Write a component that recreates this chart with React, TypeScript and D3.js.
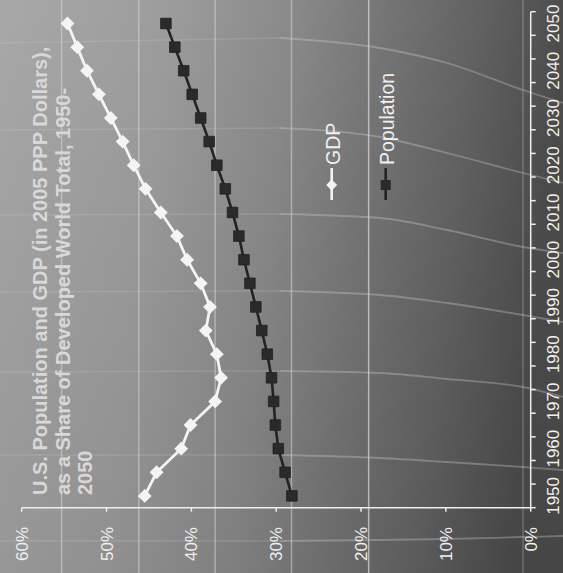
import React from "react";
import * as d3 from "d3";

// ---- data ----
const years = [1950, 1955, 1960, 1965, 1970, 1975, 1980, 1985, 1990, 1995, 2000, 2005, 2010, 2015, 2020, 2025, 2030, 2035, 2040, 2045, 2050];
const gdpShare = [45.5, 44.1, 41.2, 40.1, 37.2, 36.5, 37.0, 38.3, 37.8, 38.9, 40.5, 41.7, 43.6, 45.4, 46.8, 48.1, 49.5, 50.9, 52.3, 53.45, 54.6];
const populationShare = [28.15, 28.95, 29.75, 30.1, 30.3, 30.55, 31.05, 31.7, 32.4, 33.1, 33.8, 34.4, 35.15, 36.0, 37.0, 37.9, 38.9, 39.9, 40.9, 41.95, 43.0];
const valueTicks = [0, 10, 20, 30, 40, 50, 60];
const yearLabels = ["1950", "1960", "1970", "1980", "1990", "2000", "2010", "2020", "2030", "2040", "2050"];
const seriesNames = ["GDP", "Population"];
const titleLines = [
  "U.S. Population and GDP (in 2005 PPP Dollars),",
  "as a Share of Developed World Total, 1950-",
  "2050",
];
// background texture guides (expressed on the value scale)
const bgGuideValues = [55.3, 46.2, 37.2, 28.2, 19.1];
// faint background arcs: screen y at x = 0, 280, 380, 447, 523, 563
const bgArcs = [
  [43, 38, 48, 63, 90, 103],
  [130, 128, 137, 153, 173, 183],
  [215, 214, 218, 230, 247, 253],
  [292, 291, 295, 303, 315, 322],
  [372, 371, 373, 379, 387, 397],
  [455, 455, 458, 462, 467, 470],
  [541, 541, 540, 539, 537, 536],
];
const arcXs = [0, 280, 380, 447, 523, 563];

const W = 563;
const H = 573;
const FONT = "'Liberation Sans', Arial, Helvetica, sans-serif";

export default function App() {
  const xVal = d3.scaleLinear().domain([0, 60]).range([530.7, 21.7]);
  const yCat = d3.scaleBand<string>().domain(years.map(String)).range([507.7, 11.7]).padding(0);
  const bw = yCat.bandwidth();
  const cy = (y: number) => (yCat(String(y)) as number) + bw / 2;

  const plotLeft = xVal(60);
  const plotRight = xVal(0);
  const plotTop = yCat("2050") as number;
  const plotBottom = (yCat("1950") as number) + bw;

  const boundaries = [...years.map((y) => yCat(String(y)) as number), plotBottom];

  const line = d3
    .line<number>()
    .x((d) => xVal(d))
    .y((_, i) => cy(years[i]));

  const arcLine = d3
    .line<[number, number]>()
    .x((d) => d[0])
    .y((d) => d[1])
    .curve(d3.curveMonotoneX);

  const sq = d3.symbol().type(d3.symbolSquare);
  const diamondPath = sq.size(96)() as string;
  const squarePath = sq.size(112)() as string;
  const legDiamond = sq.size(60)() as string;
  const legSquare = sq.size(100)() as string;

  const lightText = "#f0f0f0";

  return (
    <svg
      width={W}
      height={H}
      style={{ position: "absolute", left: 0, top: 0, display: "block" }}
      fontFamily={FONT}
    >
      <defs>
        <linearGradient id="bg" x1="0" y1="0" x2={W} y2="60" gradientUnits="userSpaceOnUse">
          <stop offset="0" stopColor="#a8a8a8" />
          <stop offset="0.3" stopColor="#9c9c9c" />
          <stop offset="0.52" stopColor="#898989" />
          <stop offset="0.68" stopColor="#757575" />
          <stop offset="0.84" stopColor="#626262" />
          <stop offset="1" stopColor="#4c4c4c" />
        </linearGradient>
        <linearGradient id="shade" x1="0" y1="0" x2="0" y2="1">
          <stop offset="0" stopColor="#000" stopOpacity="0" />
          <stop offset="1" stopColor="#000" stopOpacity="0.08" />
        </linearGradient>
      </defs>
      <rect x={0} y={0} width={W} height={H} fill="url(#bg)" />
      <rect x={0} y={0} width={W} height={H} fill="url(#shade)" />

      {/* background texture guides */}
      {bgGuideValues.map((v, i) => (
        <line
          key={"g" + i}
          x1={xVal(v)}
          x2={xVal(v)}
          y1={0}
          y2={H}
          stroke="#dcdcdc"
          strokeOpacity={i === bgGuideValues.length - 1 ? 0.7 : 0.5}
          strokeWidth={1.5}
        />
      ))}
      <line x1={523} x2={523} y1={0} y2={H} stroke="#bbbbbb" strokeOpacity={0.25} strokeWidth={2} />
      {bgArcs.map((a, i) => {
        const pts = a.map((y, j) => [arcXs[j], y] as [number, number]);
        return (
          <g key={"a" + i}>
            <path d={arcLine(pts.slice(0, 2)) as string} fill="none" stroke="#d8d8d8" strokeOpacity={0.18} strokeWidth={1.5} />
            <path d={arcLine(pts.slice(1)) as string} fill="none" stroke="#d8d8d8" strokeOpacity={0.32} strokeWidth={1.8} />
          </g>
        );
      })}

      {/* title */}
      {titleLines.map((t, i) => {
        const bx = 47 + i * 22.5;
        const by = 495;
        return (
          <text
            key={"t" + i}
            x={bx}
            y={by}
            transform={`rotate(-90, ${bx}, ${by})`}
            fontSize={20}
            fontWeight="bold"
            fill="#d8d8d8"
          >
            {t}
          </text>
        );
      })}

      {/* axes */}
      <line x1={plotLeft} x2={plotRight} y1={plotBottom} y2={plotBottom} stroke="#eeeeee" strokeWidth={1.5} />
      <line x1={plotRight} x2={plotRight} y1={plotTop} y2={plotBottom} stroke="#eeeeee" strokeWidth={1.5} />
      {valueTicks.map((v) => (
        <line key={"vt" + v} x1={xVal(v)} x2={xVal(v)} y1={plotBottom} y2={plotBottom + 4} stroke="#eeeeee" strokeWidth={1.5} />
      ))}
      {boundaries.map((b, i) => (
        <line key={"ct" + i} x1={plotRight} x2={plotRight + 5} y1={b} y2={b} stroke="#eeeeee" strokeWidth={1.5} />
      ))}
      {valueTicks.map((v) => {
        const bx = xVal(v) + 6;
        const by = 527;
        return (
          <text key={"vl" + v} x={bx} y={by} transform={`rotate(-90, ${bx}, ${by})`} textAnchor="end" fontSize={17} fill={lightText}>
            {v + "%"}
          </text>
        );
      })}
      {yearLabels.map((lab) => {
        const bx = 559;
        const by = cy(+lab);
        return (
          <text key={"yl" + lab} x={bx} y={by} transform={`rotate(-90, ${bx}, ${by})`} textAnchor="middle" fontSize={17} fill={lightText}>
            {lab}
          </text>
        );
      })}

      {/* series */}
      <path d={line(populationShare) as string} fill="none" stroke="#232323" strokeWidth={2.6} />
      {populationShare.map((v, i) => (
        <path key={"p" + i} d={squarePath} transform={`translate(${xVal(v)},${cy(years[i])})`} fill="#2a2a2a" stroke="#222" strokeWidth={0.8} />
      ))}
      <path d={line(gdpShare) as string} fill="none" stroke="#f4f4f4" strokeWidth={2.8} />
      {gdpShare.map((v, i) => (
        <path key={"d" + i} d={diamondPath} transform={`translate(${xVal(v)},${cy(years[i])}) rotate(45)`} fill="#f4f4f4" />
      ))}

      {/* legend */}
      {seriesNames.map((name, i) => {
        const lx = 331.7 + i * 54;
        const isGdp = i === 0;
        const col = isGdp ? "#f4f4f4" : "#232323";
        const tx = lx + 8;
        const ty = 165;
        return (
          <g key={"lg" + name}>
            <line x1={lx} x2={lx} y1={168} y2={200} stroke={col} strokeWidth={2.6} />
            <path
              d={isGdp ? legDiamond : legSquare}
              transform={`translate(${lx},185)${isGdp ? " rotate(45)" : ""}`}
              fill={isGdp ? "#f4f4f4" : "#2a2a2a"}
            />
            <text x={tx} y={ty} transform={`rotate(-90, ${tx}, ${ty})`} fontSize={19.5} fill={lightText}>
              {name}
            </text>
          </g>
        );
      })}
    </svg>
  );
}
